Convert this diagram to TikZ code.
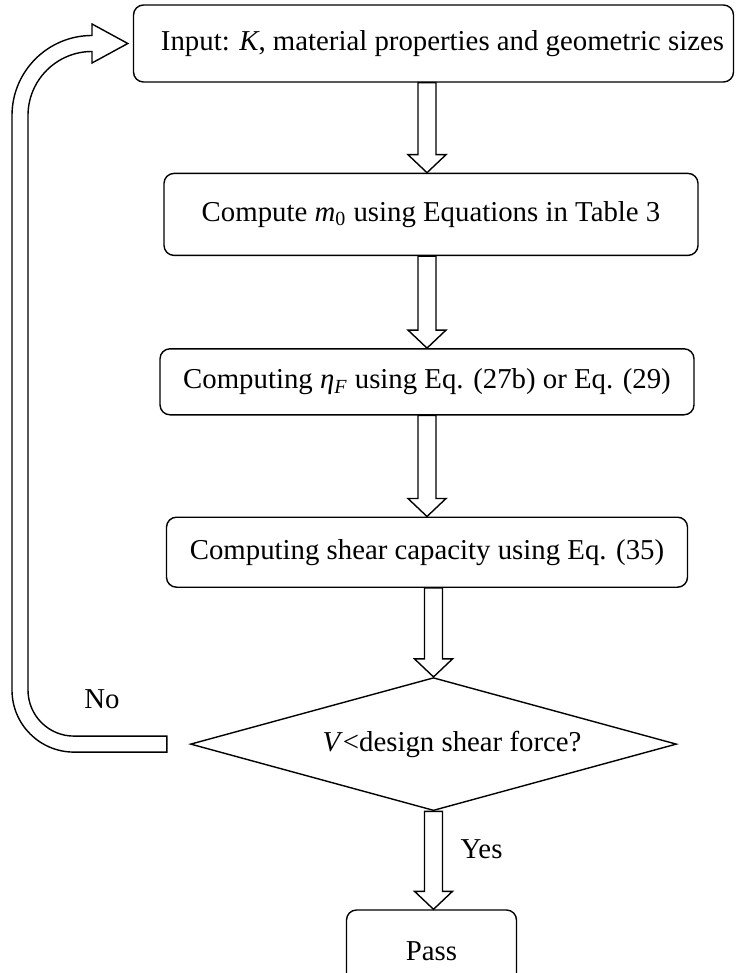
\documentclass[tikz,border=0pt]{standalone}
\usepackage{fontspec}
\setmainfont{Liberation Serif}
\usetikzlibrary{positioning,calc,shapes.geometric}
\tikzset{
  stepbox/.style={draw, rounded corners=5pt, line width=0.7pt, align=center, inner sep=2pt, font=\fontsize{14.4}{17}\selectfont},
  decide/.style={draw, diamond, aspect=3.65, line width=0.7pt, inner sep=0pt, font=\fontsize{14.4}{17}\selectfont},
  % hollow block arrow between two vertically stacked points
  hollow/.style={draw, line width=0.7pt, fill=white,
    to path={let \p1=(\tikztostart), \p2=(\tikztotarget) in
      (\x1-4.5pt,\y1) -- (\x1-4.5pt,\y2+9pt) -- (\x1-9.5pt,\y2+9pt) -- (\x1,\y2)
      -- (\x1+9.5pt,\y2+9pt) -- (\x1+4.5pt,\y2+9pt) -- (\x1+4.5pt,\y1) -- cycle}},
  tag/.style={font=\fontsize{14.4}{17}\selectfont}
}
\begin{document}
\begin{tikzpicture}
  \useasboundingbox (0,0) rectangle (367.5pt,-486.5pt);
  \node[stepbox, inner xsep=0pt, minimum width=300pt, minimum height=38.5pt] (inp) at (216.75pt,-21.75pt) {\hspace{9pt}Input: \textit{K}, material properties and geometric sizes};
  \node[stepbox, below=45pt of inp, xshift=-1.25pt, minimum width=267pt, minimum height=41pt] (mzero) {Compute \textit{m}\textsubscript{0} using Equations in Table 3};
  \node[stepbox, below=46pt of mzero, xshift=-2pt, minimum width=267pt, minimum height=33pt] (eta) {Computing \textit{η}\textsubscript{\textit{F}} using Eq. (27b) or Eq. (29)};
  \node[stepbox, below=50.5pt of eta, minimum width=260.5pt, minimum height=35pt] (shear) {Computing shear capacity using Eq. (35)};
  \node[decide, below=44.5pt of shear, xshift=3.25pt, minimum width=243pt, minimum height=66.5pt] (check) {\hspace{18.5pt}\textit{V}<design shear force?};
  \node[stepbox, below=49pt of check, xshift=-1pt, minimum width=85pt, minimum height=41pt] (pass) {Pass};
  \draw[hollow] (inp.south -| eta.north) to (mzero.north -| eta.north);
  \draw[hollow] (mzero.south -| eta.north) to (eta.north);
  \draw[hollow] (eta.south) to (shear.north);
  \draw[hollow] (shear.south -| check.north) to (check.north);
  \draw[hollow] (check.south) to (check.south |- pass.north);
  % loop back from the decision to the input box
  \draw[line width=0.7pt, fill=white] let \p1=(check.west), \p2=(inp.west) in
    (\x1-11.5pt,\y1-4pt) -- (37pt,\y1-4pt) arc[start angle=270, end angle=180, radius=31pt]
    -- (6pt,\y2-36pt) arc[start angle=180, end angle=90, radius=40pt]
    -- (46pt,\y2+9.75pt) -- (\x2-2.5pt,\y2) -- (46pt,\y2-9.75pt) -- (46pt,\y2-4pt)
    arc[start angle=90, end angle=180, radius=32pt]
    -- (14pt,\y1+27pt) arc[start angle=180, end angle=270, radius=23pt]
    -- (\x1-11.5pt,\y1+4pt) -- cycle;
  \node[tag] (no) at (51pt,-349.5pt) {No};
  \node[tag, right=10pt of check.south, yshift=-19pt] (yes) {Yes};
\end{tikzpicture}
\end{document}
